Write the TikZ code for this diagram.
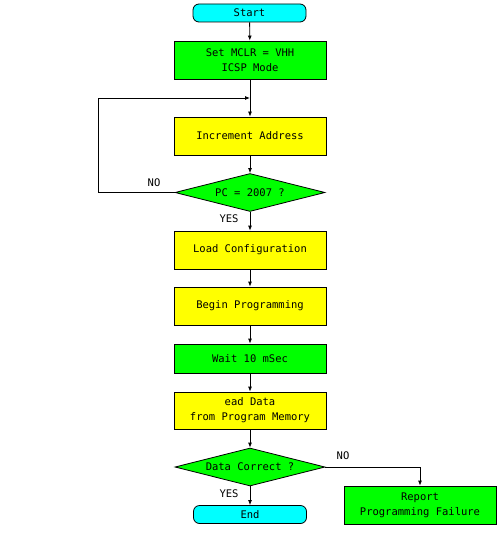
\documentclass[tikz,border=0pt]{standalone}
\usepackage{fontspec}
\setmonofont{DejaVu Sans Mono}
\usetikzlibrary{shapes.geometric,arrows.meta}
\definecolor{termcyan}{RGB}{0,255,255}
\definecolor{boxgreen}{RGB}{0,255,0}
\definecolor{boxyellow}{RGB}{255,255,0}
\tikzset{
  txt/.style={font=\ttfamily\fontsize{10.5}{15}\selectfont},
  terminal/.style={txt,draw,fill=termcyan,rounded corners=6pt,minimum width=113pt,minimum height=18pt,inner sep=0pt},
  stepbox/.style={txt,draw,align=center,minimum width=152pt,minimum height=38pt,inner sep=0pt},
  decision/.style={txt,draw,diamond,fill=boxgreen,aspect=4,minimum width=150pt,minimum height=38pt,inner sep=0pt},
  flow/.style={-{Latex[length=5pt,width=4pt]}},
}
\begin{document}
\begin{tikzpicture}[x=1pt,y=-1pt,line width=0.8pt]
    \useasboundingbox[fill=white] (0,0) rectangle (499,537);
    \node[terminal] (start) at (249.5,13) {Start};
    \node[stepbox,fill=boxgreen] (mclr) at (250,60) {Set MCLR = VHH\\ICSP Mode};
    \coordinate (loop) at (250,98);
    \node[stepbox,fill=boxyellow] (incr) at (250,136) {Increment Address};
    \node[decision] (pc) at (250,192.5) {PC = 2007 ?};
    \node[stepbox,fill=boxyellow] (conf) at (250,250) {Load Configuration};
    \node[stepbox,fill=boxyellow] (prog) at (250,306) {Begin Programming};
    \node[stepbox,fill=boxgreen,minimum height=29pt] (wait) at (250,358.5) {Wait 10 mSec};
    \node[stepbox,fill=boxyellow,minimum height=37pt] (read) at (250,410.5) {ead Data\\from Program Memory};
    \node[decision] (check) at (250,467) {Data Correct ?};
    \node[terminal] (finish) at (250,514.5) {End};
    \node[stepbox,fill=boxgreen] (fail) at (420,505) {Report\\Programming Failure};
    % connectors
    \draw[flow] (start) -- (mclr);
    \draw[flow] (mclr) -- (incr);
    \draw[flow] (pc.west) -- (98,192.5) -- (98,98) -- (loop);
    \draw[flow] (incr) -- (pc);
    \draw[flow] (pc) -- (conf);
    \draw[flow] (conf) -- (prog);
    \draw[flow] (prog) -- (wait);
    \draw[flow] (wait) -- (read);
    \draw[flow] (read) -- (check);
    \draw[flow] (check) -- (finish);
    \draw[flow] (check.east) -| (fail.north);
    % branch labels
    \node[txt] (pcno) at (154,183) {NO};
    \node[txt] (pcyes) at (229,219) {YES};
    \node[txt] (chkno) at (343,456) {NO};
    \node[txt] (chkyes) at (229,494) {YES};
\end{tikzpicture}
\end{document}
